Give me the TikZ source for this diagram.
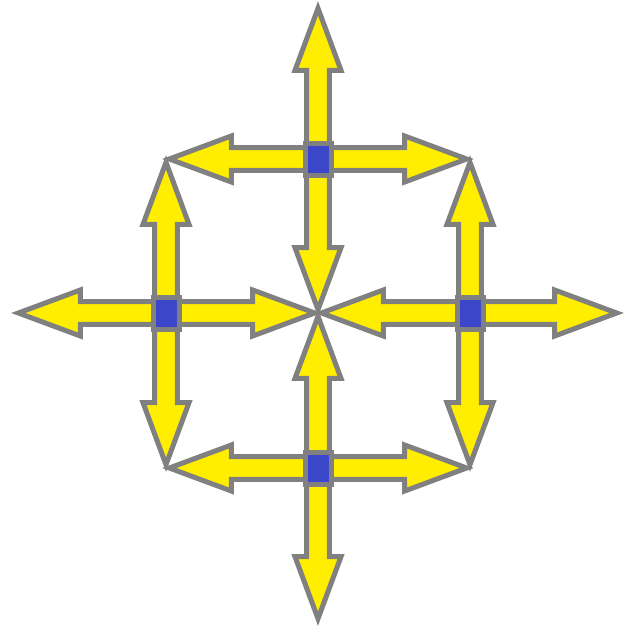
\documentclass[tikz,border=0pt]{standalone}
\usepackage{xcolor}
\usepackage{tikz}
\usetikzlibrary{calc,backgrounds}

\definecolor{arrowyellow}{RGB}{255,238,0}
\definecolor{hubblue}{RGB}{60,70,200}
\definecolor{rimgray}{RGB}{128,128,128}

\tikzset{
  fatarrow/.style={fill=arrowyellow,draw=rimgray,line width=3.75pt},
  hub/.style={rectangle,fill=hubblue,draw=rimgray,line width=3.75pt,
    minimum width=19.5pt,minimum height=24pt,inner sep=0pt},
}

% fat outlined arrow from node #1 to point #2
\newcommand{\yarrow}[2]{%
  \path ($(#2)!2.5pt!(#1.center)$) coordinate (tip);
  \path ($(tip)!46.5pt!(#1.center)$) coordinate (neck);
  \draw[fatarrow] ($(#1.center)!8.6pt!90:(tip)$) -- ($(neck)!8.6pt!90:(tip)$)
    -- ($(neck)!17.25pt!90:(tip)$) -- (tip)
    -- ($(neck)!17.25pt!-90:(tip)$) -- ($(neck)!8.6pt!-90:(tip)$)
    -- ($(#1.center)!8.6pt!-90:(tip)$) -- cycle;}

\begin{document}
\begin{tikzpicture}[x=0.75pt,y=-0.75pt]
\useasboundingbox (0,0) rectangle (625,635);
% --- hubs ---
\node[hub] (hubN) at (318,159) {};
\node[hub] (hubW) at (166,313) {};
\node[hub] (hubE) at (470,313) {};
\node[hub] (hubS) at (318,468) {};
% --- meeting points and free ends ---
\coordinate (ctr) at (318,313);
\coordinate (nw) at (166,159);
\coordinate (ne) at (470,159);
\coordinate (sw) at (166,468);
\coordinate (se) at (470,468);
\coordinate (endN) at (318,5);
\coordinate (endS) at (318,622);
\coordinate (endW) at (15,313);
\coordinate (endE) at (620,313);
% --- arrows behind the hubs ---
\begin{scope}[on background layer]
  \foreach \from/\to in {hubN/endN,hubN/nw,hubN/ne,hubN/ctr,
                         hubW/nw,hubW/sw,hubW/endW,hubW/ctr,
                         hubE/ne,hubE/se,hubE/endE,hubE/ctr,
                         hubS/ctr,hubS/sw,hubS/se,hubS/endS}{
    \yarrow{\from}{\to}}
\end{scope}
\end{tikzpicture}
\end{document}
